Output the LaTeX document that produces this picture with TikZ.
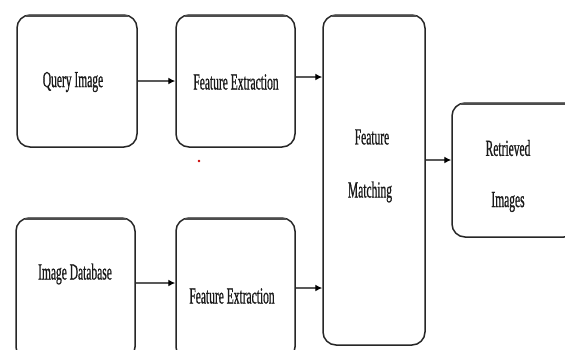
\documentclass[tikz,border=0pt]{standalone}
\usepackage{fontspec}
\newfontfamily\condserif[FakeStretch=0.5,FakeBold=0.7]{Liberation Serif}
\usetikzlibrary{arrows.meta}
\begin{document}
\begin{tikzpicture}[x=1pt,y=-1pt,
  boxst/.style={draw=black!85, line width=1.5pt, rounded corners=13pt, fill=white, inner sep=0pt},
  txt/.style={font=\condserif\fontsize{23}{27}\selectfont, text=black!90, inner sep=0pt},
  arr/.style={draw=black!65, line width=1.8pt, -{Latex[length=7pt,width=7pt,black]}}]
\useasboundingbox (0,0) rectangle (565,349);
\clip (0,0) rectangle (565,349);
\fill[white] (0,0) rectangle (565,349);
% boxes
\node[boxst, minimum width=120pt, minimum height=132pt] (q) at (77,81) {};
\node[boxst, minimum width=119pt, minimum height=132pt] (f1) at (235.5,81) {};
\node[boxst, minimum width=119pt, minimum height=142pt] (db) at (75.5,289) {};
\node[boxst, minimum width=119pt, minimum height=142pt] (f2) at (235.5,289) {};
\node[boxst, minimum width=102pt, minimum height=330pt] (m) at (374,180) {};
\node[boxst, minimum width=125pt, minimum height=134pt] (r) at (514.5,170) {};
% top edge shading
\draw[black!70, line width=1.5pt] ([xshift=10pt,yshift=-1.5pt]q.north west) -- ([xshift=-10pt,yshift=-1.5pt]q.north east);
\draw[black!70, line width=1.5pt] ([xshift=10pt,yshift=-1.5pt]f1.north west) -- ([xshift=-10pt,yshift=-1.5pt]f1.north east);
\draw[black!70, line width=1.5pt] ([xshift=10pt,yshift=-1.5pt]db.north west) -- ([xshift=-10pt,yshift=-1.5pt]db.north east);
\draw[black!70, line width=1.5pt] ([xshift=10pt,yshift=-1.5pt]f2.north west) -- ([xshift=-10pt,yshift=-1.5pt]f2.north east);
\draw[black!70, line width=1.5pt] ([xshift=10pt,yshift=-1.5pt]m.north west) -- ([xshift=-10pt,yshift=-1.5pt]m.north east);
\draw[black!70, line width=1.5pt] ([xshift=10pt,yshift=-1.5pt]r.north west) -- ([xshift=-10pt,yshift=-1.5pt]r.north east);
% texts
\node[txt] (tq) at (73,82) {Query Image};
\node[txt] (tf1) at (236,82) {Feature Extraction};
\node[txt] (tdb) at (75,274) {Image Database};
\node[txt] (tf2) at (232,296) {Feature Extraction};
\node[txt] (tm1) at (372,137) {Feature};
\node[txt] (tm2) at (370,192) {Matching};
\node[txt] (tr1) at (508,148) {Retrieved};
\node[txt] (tr2) at (508,202) {Images};
% connector levels
\coordinate (y1) at (0,77);
\coordinate (y2) at (0,283);
\coordinate (y3) at (0,288);
\coordinate (y4) at (0,160);
% arrows
\draw[arr] (q.east) -- (f1.west);
\draw[arr] (f1.east |- y1) -- (m.west |- y1);
\draw[arr] (db.east |- y2) -- (f2.west |- y2);
\draw[arr] (f2.east |- y3) -- (m.west |- y3);
\draw[arr] (m.east |- y4) -- (r.west |- y4);
% stray red dot
\fill[red!80!black] (199,161) circle (1.3pt);
\end{tikzpicture}
\end{document}
